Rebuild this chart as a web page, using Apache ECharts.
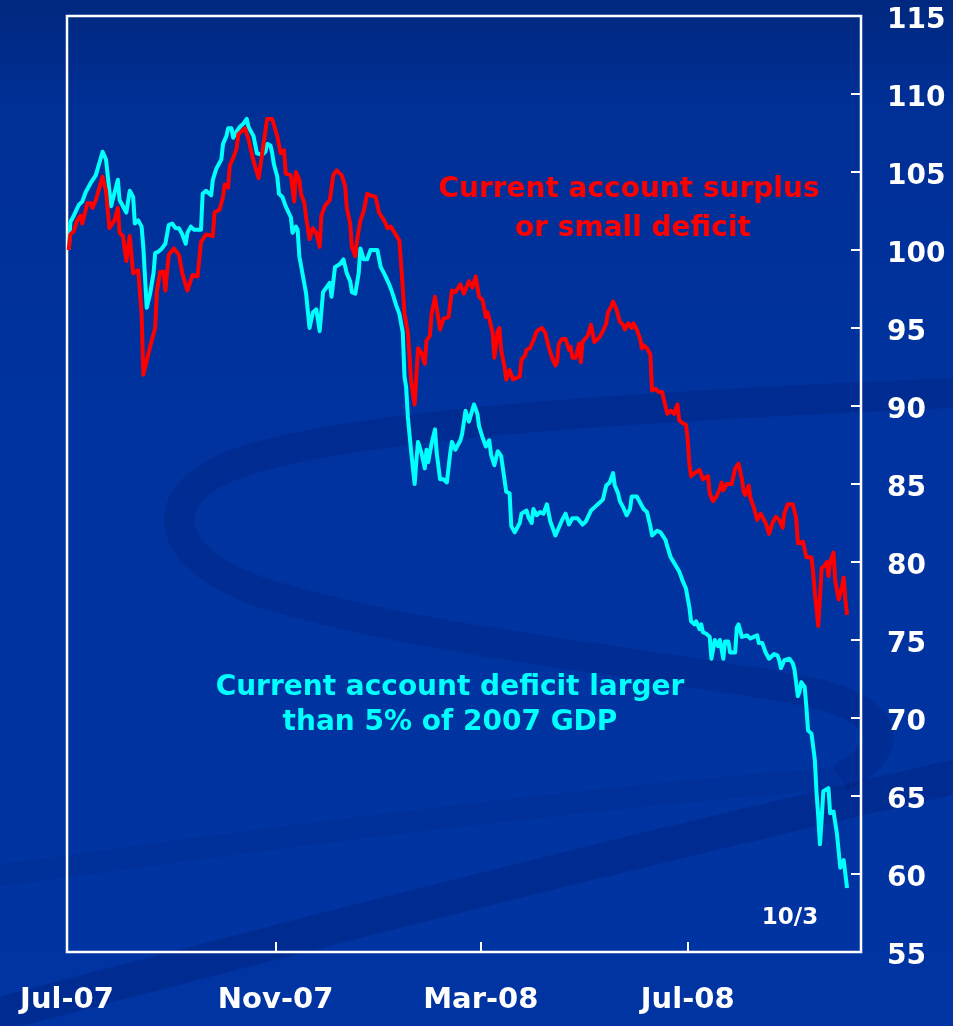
<!DOCTYPE html>
<html>
<head>
<meta charset="utf-8">
<script src="https://cdn.jsdelivr.net/npm/echarts@6/dist/echarts.min.js"></script>
<style>
  html, body { margin: 0; padding: 0; background: #0033a0; }
  #chart { width: 953px; height: 1026px; }
</style>
</head>
<body>
<div id="chart"></div>
<script>
// Day offsets count from 1 July 2007; the index starts at 100 for both groups.
const baseDate = Date.UTC(2007, 6, 1);
const axisEnd = Date.UTC(2008, 9, 11, 5);
const tickDates = ['2007-07-01', '2007-11-01', '2008-03-01', '2008-07-01'];
const monthNames = ['Jan','Feb','Mar','Apr','May','Jun','Jul','Aug','Sep','Oct','Nov','Dec'];
const yTicks = { min: 55, max: 115, step: 5 };

// Current account surplus or small deficit
const surplusDays = [
  1,2,4,6,8,9,12,14,15,17,
  21,23,25,28,30,31,33,35,37,39,
  42,44,45,49,52,53,55,57,58,59,
  60,63,66,68,71,74,77,79,82,86,
  87,90,92,93,95,96,98,100,101,105,
  107,110,113,115,118,121,124,126,128,129,
  132,134,135,137,138,140,141,143,145,147,
  149,150,152,155,157,159,162,164,165,167,
  168,170,171,173,175,177,179,182,184,187,
  189,191,196,198,199,201,203,205,206,207,
  209,211,212,214,215,217,218,220,222,225,
  227,229,232,234,237,239,241,243,245,247,
  248,249,251,252,254,255,256,258,259,261,
  263,267,268,270,271,273,275,277,280,282,
  284,286,288,289,290,292,294,296,297,298,
  300,302,303,304,307,309,311,314,316,318,
  319,321,322,324,326,328,329,331,333,334,
  336,338,339,340,342,344,345,347,349,351,
  352,354,356,358,360,361,363,365,366,367,
  368,370,371,373,375,378,379,381,383,385,
  386,387,389,392,394,396,398,399,400,402,
  403,405,407,409,412,414,416,418,420,422,
  423,425,428,430,431,434,436,439,440,441,
  443,444,445,447,448,449,450,452,453,455,
  457,458,459,460
];
const surplusValues = [
  100.0,101.0,101.2,101.9,102.2,101.7,103.0,103.0,102.7,103.2,
  104.7,103.8,101.4,101.9,102.7,101.1,100.9,99.3,100.9,98.5,
  98.7,95.9,92.0,93.8,95.0,97.4,98.6,98.6,97.4,97.4,
  99.7,100.1,99.7,98.5,97.4,98.4,98.3,100.5,101.0,100.9,
  102.4,102.6,103.4,104.2,104.0,105.4,105.9,106.5,107.4,107.8,
  107.1,105.7,104.6,106.1,108.4,108.4,107.3,106.2,106.4,104.9,
  104.8,103.1,105.0,104.5,103.6,103.0,102.1,100.7,101.4,101.1,
  100.2,102.2,102.8,103.2,104.8,105.1,104.8,104.1,102.7,101.7,
  100.2,99.6,100.6,101.9,102.5,103.6,103.5,103.4,102.4,101.9,
  101.4,101.5,100.6,97.6,95.9,94.7,91.5,90.1,91.9,93.7,
  93.4,92.7,94.2,94.5,95.9,97.0,96.3,94.9,95.6,95.7,
  97.4,97.3,97.8,97.2,98.0,97.6,98.3,97.0,96.8,95.7,
  96.0,95.6,94.7,93.1,94.8,95.0,93.6,92.5,91.7,92.3,
  91.7,91.9,93.0,93.2,93.6,93.7,94.2,94.8,95.0,94.7,
  93.8,93.1,92.6,92.8,94.0,94.3,94.3,93.6,93.8,93.1,
  93.1,94.0,92.8,94.1,94.5,95.2,94.1,94.4,94.8,95.3,
  96.0,96.4,96.7,96.2,95.4,95.2,94.9,95.3,95.0,95.3,
  94.9,94.3,93.7,93.9,93.7,93.3,91.0,91.1,90.9,90.9,
  90.4,89.5,89.7,89.5,90.1,89.1,88.9,88.8,87.9,86.3,
  85.5,85.7,85.6,85.9,85.3,85.5,84.4,83.9,84.2,84.7,
  85.1,84.6,85.0,85.0,86.0,86.3,85.3,84.5,84.3,84.9,
  84.1,83.5,82.7,83.1,82.5,81.8,82.5,82.9,82.7,82.2,
  83.1,83.7,83.7,82.8,81.2,81.3,80.3,80.3,79.3,78.0,
  75.9,76.0,79.6,79.8,80.0,79.1,80.0,80.6,78.8,77.6,
  78.4,79.0,77.6,76.6
];

// Current account deficit larger than 5% of 2007 GDP
const deficitDays = [
  1,2,4,7,9,11,14,15,17,21,
  23,26,30,31,35,37,39,40,42,44,
  45,47,49,51,52,54,56,58,60,62,
  64,66,68,70,71,73,75,79,80,82,
  85,86,88,91,92,94,95,97,98,100,
  102,104,106,107,110,112,115,117,118,120,
  121,122,124,125,127,129,132,133,135,136,
  137,139,141,143,145,147,149,151,153,155,
  156,158,161,163,165,167,168,170,172,173,
  175,177,179,183,185,187,190,192,194,196,
  198,199,200,201,203,205,206,207,209,211,
  212,213,215,217,218,220,222,224,226,227,
  229,232,233,235,237,240,242,243,245,247,
  249,250,252,254,256,259,261,262,264,267,
  268,271,272,274,275,277,279,281,283,285,
  288,290,292,294,296,298,301,304,306,309,
  311,314,316,318,320,322,323,325,326,328,
  330,332,333,336,338,340,342,344,345,348,
  350,353,354,356,361,363,365,367,368,370,
  371,373,374,375,377,379,380,382,384,385,
  387,388,390,391,394,395,396,398,401,403,
  405,407,408,410,412,414,417,419,420,421,
  423,426,428,429,431,432,433,435,436,437,
  439,441,442,443,444,445,446,449,450,451,
  452,454,455,456,458,459,460
];
const deficitValues = [
  100.0,101.8,102.2,102.9,103.1,103.7,104.3,104.4,104.8,106.3,
  105.8,102.8,104.5,103.2,102.4,103.8,103.4,101.7,101.9,101.5,
  100.2,96.3,97.2,98.5,99.8,99.9,100.1,100.4,101.6,101.7,
  101.4,101.4,101.0,100.4,101.1,101.5,101.3,101.3,103.6,103.8,
  103.5,104.5,105.2,105.8,106.8,107.3,107.8,107.8,107.2,107.6,
  107.9,108.1,108.4,107.9,107.3,106.2,106.1,106.3,106.8,106.7,
  106.2,105.5,104.7,103.6,103.4,102.8,102.1,101.1,101.5,101.3,
  99.6,98.4,97.2,95.0,96.0,96.2,94.8,97.3,97.6,97.9,
  97.0,98.9,99.1,99.4,98.5,98.0,97.3,97.2,98.5,100.1,
  99.4,99.4,100.0,100.0,98.9,98.5,97.8,97.2,96.5,95.9,
  94.7,91.9,91.2,89.3,87.0,85.0,86.5,87.7,87.0,86.0,
  87.2,86.4,87.6,88.5,87.0,85.3,85.3,85.1,87.0,87.7,
  87.2,87.8,88.2,89.7,89.0,90.1,89.5,88.7,88.0,87.4,
  87.8,86.9,86.2,87.1,86.8,84.5,84.4,82.3,81.9,82.5,
  83.1,83.3,82.9,82.5,83.4,83.0,83.2,83.1,83.7,82.6,
  81.7,82.2,82.7,83.1,82.4,82.8,82.8,82.4,82.6,83.3,
  83.5,83.8,84.0,84.9,85.1,85.7,84.9,84.4,83.9,83.5,
  83.0,83.4,84.2,84.2,83.8,83.4,83.2,82.3,81.7,82.0,
  81.9,81.4,81.0,80.3,79.4,78.8,78.3,77.1,76.2,76.0,
  76.2,75.7,76.0,75.5,75.4,75.2,73.8,75.0,74.6,75.0,
  73.8,74.9,74.9,74.2,74.2,75.8,76.0,75.2,75.3,75.1,
  75.2,75.3,74.8,74.8,74.2,73.8,74.1,74.0,73.7,73.2,
  73.7,73.8,73.5,73.1,71.4,71.7,72.3,72.0,70.7,69.2,
  69.0,67.3,65.2,63.7,61.9,63.5,65.3,65.5,63.9,64.0,
  64.0,62.6,61.5,60.4,60.9,60.9,59.1
];

const DAY = 86400000;
const toPairs = (days, values) => days.map((d, i) => [baseDate + d * DAY, values[i]]);
const tickValues = tickDates.map(s => Date.parse(s + 'T00:00:00Z'));

const labelFont = '"DejaVu Sans", Verdana, sans-serif';

// backdrop swooshes, each a chain of cubic segments: [x1, y1, cpx1, cpy1, cpx2, cpy2, x2, y2]
function swoosh(segments, stroke, width) {
  return segments.map(s => ({
    type: 'bezierCurve', z: -10, silent: true,
    shape: { x1: s[0], y1: s[1], cpx1: s[2], cpy1: s[3], cpx2: s[4], cpy2: s[5], x2: s[6], y2: s[7] },
    style: { fill: null, stroke: stroke, lineWidth: width, lineCap: 'butt' }
  }));
}
const backdrop = [].concat(
  swoosh([
    [975, 392, 700, 404, 340, 420, 225, 468],
    [225, 468, 150, 503, 170, 560, 260, 592],
    [260, 592, 420, 642, 650, 662, 800, 690],
    [800, 690, 885, 706, 905, 745, 840, 778]
  ], 'rgba(0, 30, 115, 0.28)', 30),
  swoosh([[-30, 1022, 300, 935, 650, 845, 985, 770]], 'rgba(0, 30, 115, 0.34)', 34),
  swoosh([[-30, 880, 250, 840, 560, 800, 840, 778]], 'rgba(0, 30, 115, 0.16)', 22)
);

function note(text, x, y, color, size) {
  return {
    type: 'text', z: 100, silent: true, x: x, y: y,
    style: { text: text, textAlign: 'center', textVerticalAlign: 'middle',
      fill: color, font: 'bold ' + size + 'px ' + labelFont }
  };
}

const chart = echarts.init(document.getElementById('chart'), null, { renderer: 'canvas' });

chart.setOption({
  animation: false,
  backgroundColor: {
    type: 'linear', x: 0, y: 0, x2: 0, y2: 1,
    colorStops: [
      { offset: 0, color: '#00287f' },
      { offset: 0.1, color: '#002f95' },
      { offset: 0.4, color: '#00339f' },
      { offset: 1, color: '#0034a2' }
    ]
  },
  grid: {
    left: 67, right: 92, top: 16, bottom: 74,
    show: true, borderColor: '#ffffff', borderWidth: 2.5,
    backgroundColor: 'transparent'
  },
  // time runs on a numeric axis (UTC milliseconds) so the month ticks can be placed exactly
  xAxis: {
    type: 'value',
    min: baseDate,
    max: axisEnd,
    axisLine: { show: false },
    splitLine: { show: false },
    axisTick: {
      show: true, inside: true, length: 10, customValues: tickValues,
      lineStyle: { color: '#ffffff', width: 2 }
    },
    axisLabel: {
      customValues: tickValues,
      margin: 34,
      color: '#ffffff',
      fontFamily: labelFont,
      fontWeight: 'bold',
      fontSize: 29,
      formatter: v => {
        const d = new Date(v);
        return monthNames[d.getUTCMonth()] + '-' + String(d.getUTCFullYear()).slice(2);
      }
    }
  },
  yAxis: {
    type: 'value',
    position: 'right',
    min: yTicks.min, max: yTicks.max, interval: yTicks.step,
    axisLine: { show: false },
    splitLine: { show: false },
    axisTick: { show: true, inside: true, length: 10, lineStyle: { color: '#ffffff', width: 2 } },
    axisLabel: {
      margin: 26,
      verticalAlign: 'top',
      lineHeight: 10,
      color: '#ffffff',
      fontFamily: labelFont,
      fontWeight: 'bold',
      fontSize: 28
    }
  },
  series: [
    {
      name: 'Current account deficit larger than 5% of 2007 GDP',
      type: 'line',
      data: toPairs(deficitDays, deficitValues),
      showSymbol: false,
      lineStyle: { color: '#00ffff', width: 4, join: 'round' },
      z: 3
    },
    {
      name: 'Current account surplus or small deficit',
      type: 'line',
      data: toPairs(surplusDays, surplusValues),
      showSymbol: false,
      lineStyle: { color: '#ff0000', width: 4, join: 'round' },
      z: 4
    }
  ],
  graphic: backdrop.concat([
    note('Current account surplus', 629, 190, '#ff0000', 28),
    note('or small deficit', 633, 229, '#ff0000', 28),
    note('Current account deficit larger', 450, 688, '#00ffff', 28),
    note('than 5% of 2007 GDP', 450, 723, '#00ffff', 28),
    note('10/3', 790, 918, '#ffffff', 23)
  ])
});
</script>
</body>
</html>
